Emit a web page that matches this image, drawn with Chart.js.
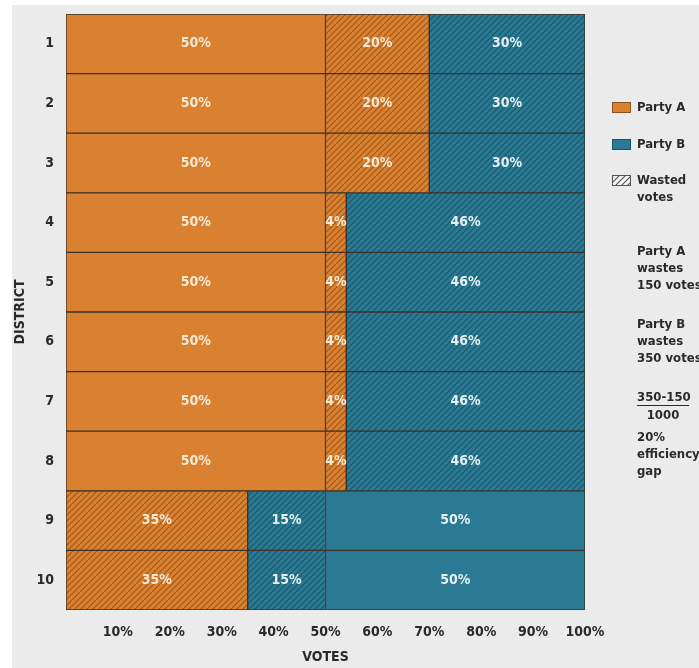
<!DOCTYPE html>
<html>
<head>
<meta charset="utf-8">
<script src="https://cdn.jsdelivr.net/npm/chart.js@4"></script>
<style>
  html, body { margin: 0; padding: 0; background: #fff; }
  #wrap { position: absolute; left: 12px; top: 5px; width: 687px; height: 663px; background: #ebebeb; overflow: hidden; }
  #chart { position: absolute; left: -12px; top: -5px; }
  .side { position: absolute; font-family: "DejaVu Sans Condensed", "DejaVu Sans", sans-serif; font-weight: bold; font-size: 13px; color: #2a2a2a; line-height: 17px; white-space: nowrap; }
  .sw { position: absolute; width: 17px; height: 9px; }
</style>
</head>
<body>
<div id="wrap">
  <canvas id="chart" width="699" height="668"></canvas>
  <div class="sw" style="left:600px;top:97px;background:#d98130;border:1px solid #8a5020"></div>
  <div class="side" style="left:625px;top:93px">Party A</div>
  <div class="sw" style="left:600px;top:134px;background:#2b7a93;border:1px solid #1d5364"></div>
  <div class="side" style="left:625px;top:130px">Party B</div>
  <div class="sw" id="hatchSw" style="left:600px;top:170px;border:1px solid #555"></div>
  <div class="side" style="left:625px;top:166px">Wasted<br>votes</div>
  <div class="side" style="left:625px;top:237px">Party A<br>wastes<br>150 votes</div>
  <div class="side" style="left:625px;top:310px">Party B<br>wastes<br>350 votes</div>
  <div class="side" style="left:625px;top:383px;text-align:center;width:52px">
    <div style="border-bottom:1.5px solid #2a2a2a">350-150</div>
    <div>1000</div>
  </div>
  <div class="side" style="left:625px;top:423px">20%<br>efficiency<br>gap</div>
</div>
<script>
const districts = ['1', '2', '3', '4', '5', '6', '7', '8', '9', '10'];
const partyAVotes = [50, 50, 50, 50, 50, 50, 50, 50, 0, 0];
const partyAWasted = [20, 20, 20, 4, 4, 4, 4, 4, 35, 35];
const partyBWasted = [30, 30, 30, 46, 46, 46, 46, 46, 15, 15];
const partyBVotes = [0, 0, 0, 0, 0, 0, 0, 0, 50, 50];
const xTicks = [10, 20, 30, 40, 50, 60, 70, 80, 90, 100];

const ORANGE = '#d98130', TEAL = '#2b7a93';
const FONT = '"DejaVu Sans Condensed", "DejaVu Sans", sans-serif';

function makeHatch(bg, line) {
    const c = document.createElement('canvas');
    c.width = c.height = 6;
    const g = c.getContext('2d');
    g.fillStyle = bg; g.fillRect(0, 0, 6, 6);
    g.strokeStyle = line; g.lineWidth = 1.1;
    g.beginPath();
    g.moveTo(-1, 7); g.lineTo(7, -1);
    g.moveTo(-4, 4); g.lineTo(4, -4);
    g.moveTo(2, 10); g.lineTo(10, 2);
    g.stroke();
    return c;
}

const ctx = document.getElementById('chart').getContext('2d');
const hatchA = ctx.createPattern(makeHatch(ORANGE, '#9a5a1e'), 'repeat');
const hatchB = ctx.createPattern(makeHatch(TEAL, '#1d5666'), 'repeat');
const hw = makeHatch('#f4f4f4', '#555');
document.getElementById('hatchSw').style.background = 'url(' + hw.toDataURL() + ')';

const barLabels = {
    id: 'barLabels',
    afterDatasetsDraw(chart) {
        const c = chart.ctx;
        c.save();
        c.font = 'bold 14px ' + FONT;
        c.textAlign = 'center';
        c.textBaseline = 'middle';
        chart.data.datasets.forEach((ds, i) => {
            chart.getDatasetMeta(i).data.forEach((el, j) => {
                const v = ds.data[j];
                if (!v) return;
                c.fillStyle = i < 2 ? '#f6ead6' : '#e4f0f2';
                c.fillText(v + '%', (el.x + el.base) / 2, el.y);
            });
        });
        c.restore();
    }
};

const common = { borderColor: '#3a3028', borderWidth: 1, borderSkipped: false, barPercentage: 1, categoryPercentage: 1 };

new Chart(ctx, {
    type: 'bar',
    data: {
        labels: districts,
        datasets: [
            { label: 'Party A', data: partyAVotes, backgroundColor: ORANGE, ...common },
            { label: 'Party A wasted', data: partyAWasted, backgroundColor: hatchA, ...common },
            { label: 'Party B wasted', data: partyBWasted, backgroundColor: hatchB, ...common },
            { label: 'Party B', data: partyBVotes, backgroundColor: TEAL, ...common }
        ]
    },
    options: {
        indexAxis: 'y',
        responsive: false,
        animation: false,
        layout: { padding: { top: 14, right: 114, left: 12, bottom: 0 } },
        plugins: { legend: { display: false }, tooltip: { enabled: false } },
        scales: {
            x: {
                stacked: true, min: 0, max: 100,
                grid: { display: false }, border: { display: false },
                afterBuildTicks: s => { s.ticks = xTicks.map(v => ({ value: v })); },
                afterFit: s => { s.height = 58; },
                ticks: { color: '#2a2a2a', font: { family: FONT, weight: 'bold', size: 14 }, padding: 6, callback: v => v + '%' },
                title: { display: true, text: 'VOTES', color: '#2a2a2a', font: { family: FONT, weight: 'bold', size: 14 }, padding: { top: 4, bottom: 2 } }
            },
            y: {
                stacked: true,
                grid: { display: false, drawTicks: false }, border: { display: false },
                afterFit: s => { s.width = 54; s.paddingTop = 0; s.paddingBottom = 0; },
                ticks: { color: '#2a2a2a', font: { family: FONT, weight: 'bold', size: 14 }, padding: 12 },
                title: { display: true, text: 'DISTRICT', color: '#2a2a2a', font: { family: FONT, weight: 'bold', size: 14 }, padding: 0 }
            }
        }
    },
    plugins: [barLabels]
});
</script>
</body>
</html>
